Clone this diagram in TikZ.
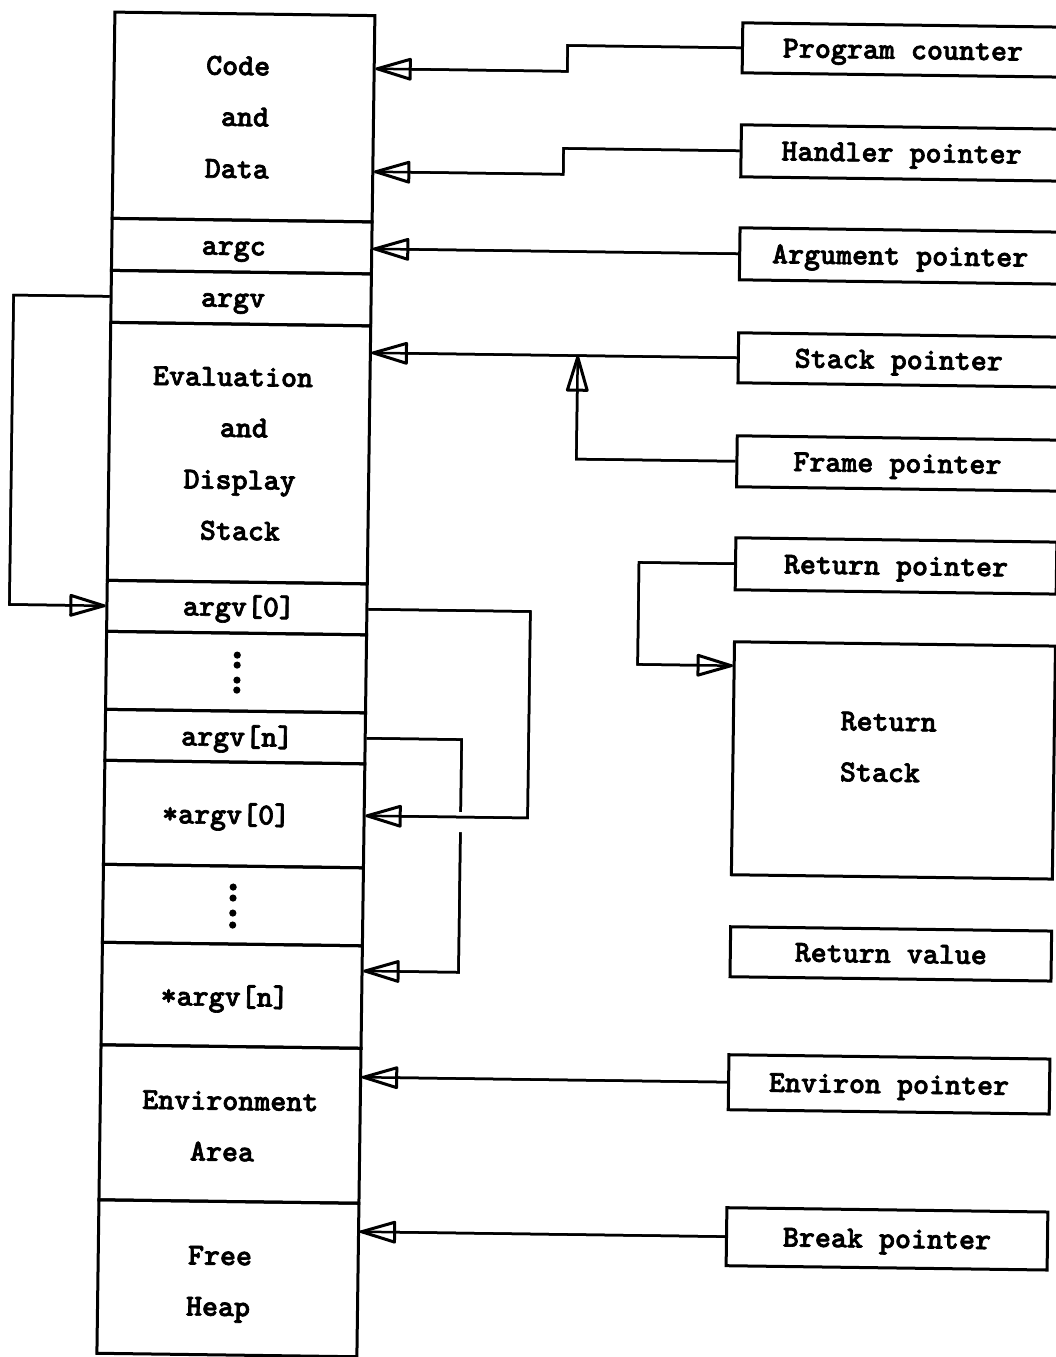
\documentclass[tikz,border=0pt]{standalone}
\usepackage{fontspec}
\newfontfamily\dfont[FakeBold=2.2]{lmmonolt10-bold.otf}
\usetikzlibrary{arrows.meta}
\begin{document}
\begin{tikzpicture}[x=1pt,y=-1pt,
  txt/.style={font=\dfont\fontsize{30.5pt}{30.5pt}\selectfont, text height=18pt, text depth=0pt},
  cell/.style={draw, line width=3pt, minimum width=260pt, inner sep=0pt},
  rbox/.style={draw, line width=3pt, minimum width=321pt, inner sep=0pt, txt},
  lbl/.style={inner sep=0pt, txt},
  wire/.style={line width=2.5pt},
  ptr/.style={wire, -{Triangle[open, length=40pt, width=23pt, round, line width=3pt]}},
  dotmark/.style={fill=black}
]
\useasboundingbox (0,0) rectangle (1055,1357);
\begin{scope}[rotate around={-0.77:(528,678)}, transform shape]
% memory column
\node[cell, minimum height=206.3pt] (code) at (236,120.85) {};
\node[cell, minimum height=52pt] (argc) at (236,250) {};
\node[cell, minimum height=52pt] (argv) at (236,302) {};
\node[cell, minimum height=258pt] (eval) at (236,457) {};
\node[cell, minimum height=51pt] (av0) at (236,611.5) {};
\node[cell, minimum height=78pt] (dots1) at (236,676) {};
\node[cell, minimum height=51pt] (avn) at (236,740.5) {};
\node[cell, minimum height=104pt] (sav0) at (236,818) {};
\node[cell, minimum height=78pt] (dots2) at (236,909) {};
\node[cell, minimum height=102.5pt] (savn) at (236,999.25) {};
\node[cell, minimum height=155pt] (env) at (236,1128) {};
\node[cell, minimum height=153.5pt] (heap) at (236,1282.25) {};
% column texts
\node[lbl] (tcode) at (230,70) {Code};
\node[lbl] (tand1) at (237.5,121) {and};
\node[lbl] (tdata) at (230,173) {Data};
\node[lbl] (targc) at (228,250) {argc};
\node[lbl] (targv) at (228,302) {argv};
\node[lbl] (teval) at (229,381) {Evaluation};
\node[lbl] (tand2) at (240.6,432) {and};
\node[lbl] (tdisp) at (237,484) {Display};
\node[lbl] (tstack) at (238,535) {Stack};
\node[lbl] (tav0) at (238,611) {argv[0]};
\node[lbl] (tavn) at (238,741) {argv[n]};
\node[lbl] (tsav0) at (228,819) {*argv[0]};
\node[lbl] (tsavn) at (229,1001) {*argv[n]};
\node[lbl] (tenv) at (236,1105) {Environment};
\node[lbl] (tarea) at (228.4,1156) {Area};
\node[lbl] (tfree) at (227.8,1260) {Free};
\node[lbl] (theap) at (226.5,1311) {Heap};
% vertical ellipsis dots
\foreach \yy in {659,669,684,694} \fill[dotmark] (237,\yy) circle (3.6pt);
\foreach \yy in {891,902,917,929} \fill[dotmark] (236,\yy) circle (3.6pt);
% right boxes
\node[rbox, minimum height=50pt] (pc) at (894.5,45) {Program counter};
\node[rbox, minimum height=52pt] (hp) at (894.5,148) {Handler pointer};
\node[rbox, minimum height=52pt] (ap) at (894.5,251) {Argument pointer};
\node[rbox, minimum height=50pt] (sp) at (894.5,355) {Stack pointer};
\node[rbox, minimum height=51pt] (fp) at (894.5,458.5) {Frame pointer};
\node[rbox, minimum height=52pt] (rp) at (894.5,561) {Return pointer};
\node[rbox, minimum height=233pt] (rs) at (894.5,755.5) {};
\node[lbl, anchor=west] (trs1) at (841,717) {Return};
\node[lbl, anchor=west] (trs2) at (841,768) {Stack};
\node[rbox, minimum height=50pt] (rv) at (894.5,949) {Return value};
\node[rbox, minimum height=55pt] (ep) at (894.5,1079.5) {Environ pointer};
\node[rbox, minimum height=58pt] (bp) at (894.5,1234) {Break pointer};
\coordinate (jn) at ([xshift=-159pt]sp.west);
% connectors (line through the open triangle, then the head)
\draw[wire] (pc.west) -- ++(-173.3,0) |- ([yshift=50pt]code.east);
\draw[ptr]  (pc.west) -- ++(-173.3,0) |- ([yshift=50pt]code.east);
\draw[wire] (hp.west) -- ++(-176,0) |- ([yshift=-53pt]code.east);
\draw[ptr]  (hp.west) -- ++(-176,0) |- ([yshift=-53pt]code.east);
\draw[wire] (ap.west) -- (ap.west -| argc.east);
\draw[ptr]  (ap.west) -- (ap.west -| argc.east);
\draw[wire] (sp.west) -- (sp.west -| eval.east);
\draw[ptr]  (sp.west) -- (sp.west -| eval.east);
\draw[wire] (fp.west) -| (jn);
\draw[ptr]  (fp.west) -| (jn);
\draw[wire] (rp.west) -- ++(-95,0) |- ([yshift=92.5pt]rs.west);
\draw[ptr]  (rp.west) -- ++(-95,0) |- ([yshift=92.5pt]rs.west);
\draw[wire] (ep.west) -- (ep.west -| env.east);
\draw[ptr]  (ep.west) -- (ep.west -| env.east);
\draw[wire] (bp.west) -- (bp.west -| heap.east);
\draw[ptr]  (bp.west) -- (bp.west -| heap.east);
\draw[wire] (argv.west) -- ++(-96,0) |- (av0.west);
\draw[ptr]  (argv.west) -- ++(-96,0) |- (av0.west);
\draw[wire] (avn.east) -- ++(95,0) |- ([yshift=26pt]savn.east);
\draw[ptr]  (avn.east) -- ++(95,0) |- ([yshift=26pt]savn.east);
\fill[white] (455,813) rectangle (467,833);
\draw[wire] (av0.east) -- ++(162,0) |- (sav0.east);
\draw[ptr]  (av0.east) -- ++(162,0) |- (sav0.east);
\end{scope}
\end{tikzpicture}
\end{document}
